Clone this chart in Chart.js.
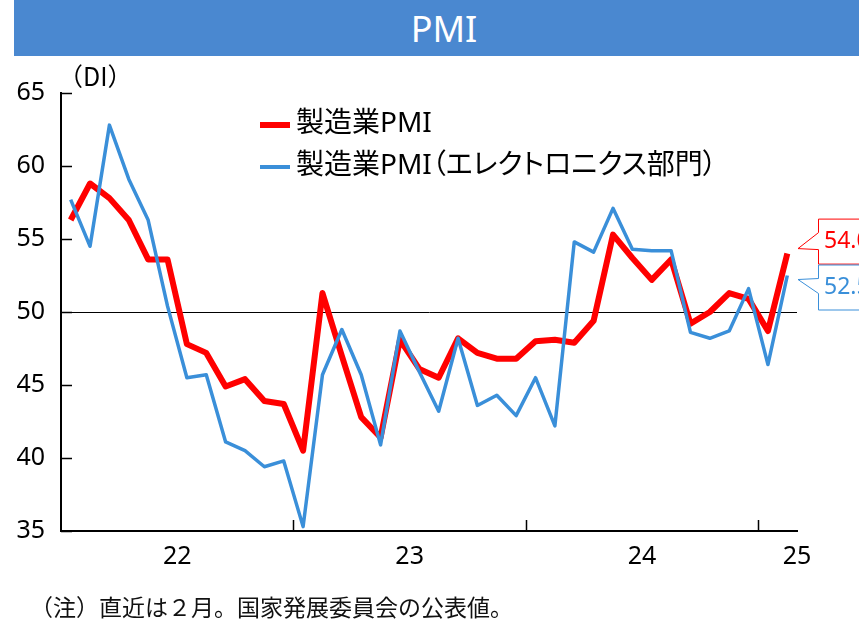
<!DOCTYPE html>
<html lang="ja">
<head>
<meta charset="utf-8">
<title>PMI</title>
<script src="https://cdn.jsdelivr.net/npm/chart.js@4"></script>
<style>
  body { margin: 0; background: #fff; }
  #wrap { position: relative; width: 859px; height: 620px; overflow: hidden;
          font-family: "Noto Sans", "Noto Sans CJK JP", sans-serif; color: #000; }
  #chart { position: absolute; left: 0; top: 0; }
  #banner { position: absolute; left: 14px; right: 0; top: 0; height: 56px; background: #4a88d0;
            color: #fff; font-size: 36px; line-height: 58px; text-align: center; padding-left: 15px; }
  #unit { position: absolute; left: 58px; top: 63px; font-size: 25px; line-height: 25px;
          font-family: "Noto Sans CJK JP", sans-serif; }
  #legend { position: absolute; left: 260px; top: 100px; font-size: 28px; font-feature-settings: "palt"; }
  #legend div { height: 42px; line-height: 42px; white-space: nowrap; }
  #legend span.sw { display: inline-block; width: 30px; margin-right: 6px; vertical-align: middle; }
  #note { position: absolute; left: 30px; top: 595px; font-size: 23px; line-height: 23px; color: #111;
          font-family: "Noto Sans CJK JP", sans-serif; white-space: nowrap; }
</style>
</head>
<body>
<div id="wrap">
  <canvas id="chart" width="859" height="620"></canvas>
  <div id="banner">PMI</div>
  <div id="unit">（DI）</div>
  <div id="legend"></div>
  <div id="note">（注）直近は２月。国家発展委員会の公表値。</div>
</div>
<script>
  const months = [
    '2022-01', '2022-02', '2022-03', '2022-04', '2022-05', '2022-06',
    '2022-07', '2022-08', '2022-09', '2022-10', '2022-11', '2022-12',
    '2023-01', '2023-02', '2023-03', '2023-04', '2023-05', '2023-06',
    '2023-07', '2023-08', '2023-09', '2023-10', '2023-11', '2023-12',
    '2024-01', '2024-02', '2024-03', '2024-04', '2024-05', '2024-06',
    '2024-07', '2024-08', '2024-09', '2024-10', '2024-11', '2024-12',
    '2025-01', '2025-02'
  ];
  const yearLabels = ['22', '23', '24', '25'];
  const seriesNames = ['製造業PMI', '製造業PMI（エレクトロニクス部門）'];

  // 製造業PMI
  const mfgPmi = [
    56.3, 58.8, 57.8, 56.3, 53.6, 53.6, 47.8, 47.2, 44.9, 45.4, 43.9, 43.7,
    40.5, 51.3, 47.0, 42.8, 41.4, 48.1, 46.1, 45.5, 48.2, 47.2, 46.8, 46.8,
    48.0, 48.1, 47.9, 49.4, 55.3, 53.7, 52.2, 53.6, 49.2, 50.0, 51.3, 50.9,
    48.7, 54.0
  ];
  // 製造業PMI（エレクトロニクス部門）
  const elecPmi = [
    57.7, 54.5, 62.8, 59.1, 56.3, 50.4, 45.5, 45.7, 41.1, 40.5, 39.4, 39.8,
    35.3, 45.7, 48.8, 45.7, 40.9, 48.7, 45.9, 43.2, 48.2, 43.6, 44.3, 42.9,
    45.5, 42.2, 54.8, 54.1, 57.1, 54.3, 54.2, 54.2, 48.6, 48.2, 48.7, 51.6,
    46.4, 52.5
  ];

  const redColor = '#ff0000';
  const blueColor = '#3a8fd9';

  // inward tick marks and year labels under the x axis
  const axisMarks = {
    id: 'axisMarks',
    afterDraw(chart) {
      const { ctx, chartArea: a, scales: { x, y } } = chart;
      ctx.save();
      ctx.strokeStyle = '#000';
      ctx.lineWidth = 1.5;
      ctx.beginPath();
      y.ticks.forEach(t => {
        const py = Math.round(y.getPixelForValue(t.value)) + 0.5;
        ctx.moveTo(a.left, py);
        ctx.lineTo(a.left + 11, py);
      });
      months.forEach((m, i) => {
        if (i > 0 && m.endsWith('-01')) {
          const px = Math.round((x.getPixelForValue(i - 1) + x.getPixelForValue(i)) / 2) + 0.5;
          ctx.moveTo(px, a.bottom);
          ctx.lineTo(px, a.bottom - 11);
        }
      });
      ctx.stroke();

      const step = x.getPixelForValue(1) - x.getPixelForValue(0);
      ctx.fillStyle = '#000';
      ctx.font = '25px "Noto Sans"';
      ctx.textAlign = 'center';
      ctx.textBaseline = 'middle';
      yearLabels.forEach(yl => {
        const first = months.findIndex(m => m.slice(2, 4) === yl);
        const cx = Math.min(x.getPixelForValue(first) + step * 5.5, a.right);
        ctx.fillText(yl, cx, a.bottom + 26);
      });
      ctx.restore();
    }
  };

  // value callouts for the latest month
  const callouts = {
    id: 'callouts',
    afterDraw(chart, args, opts) {
      const { ctx, chartArea: a, scales: { y } } = chart;
      ctx.save();
      chart.data.datasets.forEach((ds, i) => {
        const o = opts.boxes[i];
        const v = ds.data[ds.data.length - 1];
        const tipY = y.getPixelForValue(v) + o.tipShift;
        const tipX = a.right + 1;
        const bx = a.right + 21;
        const top = tipY + o.boxTop;
        const h = 45;
        ctx.beginPath();
        ctx.moveTo(bx + 0.5, top + 0.5);
        ctx.lineTo(bx + 120, top + 0.5);
        ctx.lineTo(bx + 120, top + h + 0.5);
        ctx.lineTo(bx + 0.5, top + h + 0.5);
        ctx.lineTo(bx + 0.5, tipY + o.base2);
        ctx.lineTo(tipX, tipY);
        ctx.lineTo(bx + 0.5, tipY + o.base1);
        ctx.closePath();
        ctx.fillStyle = '#fff';
        ctx.fill();
        ctx.strokeStyle = ds.borderColor;
        ctx.lineWidth = 1;
        ctx.stroke();
        ctx.fillStyle = ds.borderColor;
        ctx.font = '23px "Noto Sans"';
        ctx.textAlign = 'left';
        ctx.textBaseline = 'middle';
        ctx.fillText(v.toFixed(1), bx + 6, top + 23);
      });
      ctx.restore();
    }
  };

  const chart = new Chart(document.getElementById('chart'), {
    type: 'line',
    data: {
      labels: months,
      datasets: [{
        label: seriesNames[0],
        data: mfgPmi,
        borderColor: redColor,
        borderWidth: 6,
        pointRadius: 0,
        borderJoinStyle: 'round',
        order: 2
      }, {
        label: seriesNames[1],
        data: elecPmi,
        borderColor: blueColor,
        borderWidth: 3.5,
        pointRadius: 0,
        borderJoinStyle: 'round',
        order: 1
      }]
    },
    options: {
      responsive: false,
      animation: false,
      devicePixelRatio: 1,
      layout: { padding: { top: 93, right: 62, bottom: 89, left: 0 } },
      plugins: {
        legend: { display: false },
        tooltip: { enabled: false },
        callouts: {
          boxes: [
            { tipShift: -5, boxTop: -30, base1: -16, base2: 1 },
            { tipShift: 4, boxTop: -15, base1: -1, base2: 14 }
          ]
        }
      },
      scales: {
        x: {
          offset: true,
          grid: { display: false },
          border: { display: true, color: '#000', width: 2 },
          ticks: { display: false },
          afterFit: s => { s.height = 0; }
        },
        y: {
          min: 35,
          max: 65,
          ticks: { stepSize: 5, padding: 16, color: '#000', font: { family: '"Noto Sans"', size: 25 } },
          grid: {
            drawTicks: false,
            lineWidth: 1,
            color: c => (c.tick && c.tick.value === 50) ? '#000' : 'rgba(0,0,0,0)'
          },
          border: { display: true, color: '#000', width: 2 },
          afterFit: s => { s.width = 61; }
        }
      }
    },
    plugins: [axisMarks, callouts]
  });

  // legend built from the datasets
  const legend = document.getElementById('legend');
  chart.data.datasets.forEach(ds => {
    const row = document.createElement('div');
    const sw = document.createElement('span');
    sw.className = 'sw';
    sw.style.height = (ds.borderWidth >= 5 ? 6 : 4) + 'px';
    sw.style.background = ds.borderColor;
    row.appendChild(sw);
    row.appendChild(document.createTextNode(ds.label));
    legend.appendChild(row);
  });
</script>
</body>
</html>
